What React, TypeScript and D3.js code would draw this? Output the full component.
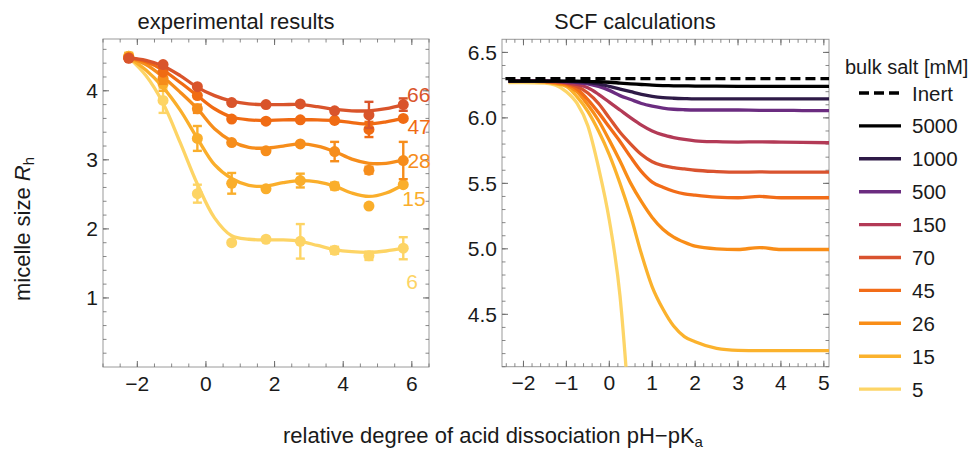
import React from 'react';
import * as d3 from 'd3';

// ---------- experimental data (left panel) ----------
const EXP_X = [-2.25, -1.25, -0.25, 0.75, 1.75, 2.75, 3.75, 4.75, 5.75];
const EXP_66 = [4.47, 4.38, 4.06, 3.83, 3.8, 3.81, 3.71, 3.65, 3.8];
const ERR_66 = [0.03, 0, 0, 0, 0, 0, 0, 0.19, 0.09];
const EXP_47 = [4.48, 4.27, 3.93, 3.59, 3.56, 3.58, 3.57, 3.44, 3.6];
const ERR_47 = [0, 0, 0, 0, 0.03, 0, 0, 0.11, 0];
const EXP_28 = [4.48, 4.18, 3.74, 3.25, 3.13, 3.23, 3.12, 2.85, 2.99];
const ERR_28 = [0, 0.08, 0.06, 0, 0, 0, 0.14, 0.05, 0.27];
const EXP_15 = [4.5, 4.1, 3.31, 2.66, 2.58, 2.7, 2.62, 2.33, 2.64];
const ERR_15 = [0.05, 0.1, 0.18, 0.15, 0, 0.1, 0.05, 0, 0];
const EXP_6 = [4.5, 3.86, 2.51, 1.8, 1.85, 1.82, 1.69, 1.61, 1.72];
const ERR_6 = [0.04, 0.18, 0.13, 0, 0, 0.25, 0.05, 0.06, 0.16];

const FIT_X = [-2.25, -1.75, -1.25, -0.75, -0.25, 0.25, 0.75, 1.25, 1.75, 2.25, 2.75, 3.25, 3.75, 4.25, 4.75, 5.25, 5.75];
const FIT_66 = [4.48, 4.44, 4.36, 4.22, 4.05, 3.93, 3.85, 3.81, 3.8, 3.8, 3.8, 3.77, 3.73, 3.71, 3.71, 3.74, 3.8];
const FIT_47 = [4.48, 4.42, 4.3, 4.12, 3.93, 3.74, 3.62, 3.58, 3.57, 3.58, 3.58, 3.58, 3.57, 3.54, 3.52, 3.55, 3.6];
const FIT_28 = [4.48, 4.38, 4.2, 3.98, 3.74, 3.45, 3.27, 3.18, 3.17, 3.2, 3.23, 3.2, 3.12, 3.01, 2.95, 2.95, 3.0];
const FIT_15 = [4.48, 4.3, 4.05, 3.72, 3.31, 2.93, 2.73, 2.63, 2.62, 2.67, 2.7, 2.68, 2.62, 2.52, 2.47, 2.52, 2.64];
const FIT_6 = [4.48, 4.22, 3.82, 3.25, 2.65, 2.16, 1.9, 1.85, 1.84, 1.84, 1.82, 1.76, 1.7, 1.67, 1.66, 1.68, 1.72];

const EXP_LABELS = ['66', '47', '28', '15', '6'];
const EXP_COLORS = ['#D9542B', '#F06B13', '#F68D1B', '#FAAE2B', '#FDD465'];

// ---------- SCF data (right panel) ----------
const SCF_X = [-2.35, -2, -1.5, -1.25, -1, -0.75, -0.5, -0.25, 0, 0.25, 0.5, 0.75, 1, 1.25, 1.5, 1.75, 2, 2.5, 3, 3.5, 4, 4.5, 5.12];
const SCF_5000 = [6.28, 6.28, 6.28, 6.28, 6.28, 6.28, 6.278, 6.276, 6.272, 6.266, 6.26, 6.255, 6.25, 6.247, 6.245, 6.244, 6.243, 6.242, 6.241, 6.241, 6.24, 6.24, 6.24];
const SCF_1000 = [6.28, 6.28, 6.28, 6.28, 6.278, 6.275, 6.27, 6.26, 6.24, 6.22, 6.2, 6.18, 6.165, 6.155, 6.15, 6.147, 6.145, 6.145, 6.145, 6.145, 6.145, 6.145, 6.145];
const SCF_500 = [6.28, 6.28, 6.28, 6.278, 6.275, 6.27, 6.26, 6.24, 6.21, 6.17, 6.14, 6.11, 6.09, 6.075, 6.066, 6.062, 6.06, 6.06, 6.06, 6.058, 6.058, 6.056, 6.055];
const SCF_150 = [6.28, 6.28, 6.28, 6.278, 6.27, 6.255, 6.23, 6.18, 6.12, 6.06, 6.0, 5.945, 5.9, 5.87, 5.85, 5.835, 5.825, 5.818, 5.815, 5.817, 5.815, 5.813, 5.81];
const SCF_70 = [6.28, 6.28, 6.278, 6.275, 6.265, 6.24, 6.19, 6.11, 6.0, 5.89, 5.8, 5.72, 5.665, 5.635, 5.62, 5.61, 5.6, 5.59, 5.585, 5.588, 5.585, 5.585, 5.585];
const SCF_45 = [6.28, 6.28, 6.278, 6.272, 6.26, 6.22, 6.14, 6.04, 5.93, 5.82, 5.7, 5.59, 5.51, 5.47, 5.44, 5.42, 5.41, 5.395, 5.39, 5.4, 5.39, 5.39, 5.39];
const SCF_26 = [6.28, 6.28, 6.275, 6.265, 6.25, 6.2, 6.1, 5.98, 5.83, 5.67, 5.5, 5.36, 5.24, 5.15, 5.09, 5.05, 5.02, 5.0, 4.995, 5.01, 4.995, 4.995, 4.995];
const SCF_15 = [6.28, 6.28, 6.275, 6.26, 6.24, 6.16, 6.05, 5.9, 5.72, 5.5, 5.25, 4.96, 4.71, 4.54, 4.41, 4.33, 4.29, 4.24, 4.225, 4.223, 4.223, 4.223, 4.223];
const SCF_5 = [6.27, 6.27, 6.265, 6.25, 6.2, 6.11, 5.94, 5.62, 5.22, 4.64, 3.6, null, null, null, null, null, null, null, null, null, null, null, null];
const INERT = 6.3;
const INERT_X = [-2.42, 5.12];

const LEGEND_LABELS = ['Inert', '5000', '1000', '500', '150', '70', '45', '26', '15', '5'];
const SCF_COLORS = ['#000000', '#000000', '#2E1A47', '#6B2C80', '#B33A56', '#D9532F', '#F26C18', '#F98D17', '#FBB22D', '#FDD567'];

const LEFT_XTICKS = [-2, 0, 2, 4, 6];
const LEFT_YTICKS = [1, 2, 3, 4];
const RIGHT_XTICKS = [-2, -1, 0, 1, 2, 3, 4, 5];
const RIGHT_YTICKS = [4.5, 5.0, 5.5, 6.0, 6.5];

const FONT = 'Liberation Sans, Arial, Helvetica, sans-serif';
const fmtMinus = (v: number) => (v < 0 ? '\u2212' + Math.abs(v) : String(v));

type FrameProps = {
  x: d3.ScaleLinear<number, number>;
  y: d3.ScaleLinear<number, number>;
  xMajor: number[];
  yMajor: number[];
  xMinor: number[];
  yMinor: number[];
  xFmt: (v: number) => string;
  yFmt: (v: number) => string;
};

function Frame({ x, y, xMajor, yMajor, xMinor, yMinor, xFmt, yFmt }: FrameProps) {
  const [x0, x1] = x.range();
  const [y0, y1] = y.range(); // y0 bottom, y1 top
  const maj = 6;
  const min = 3.5;
  const tc = '#6b6b6b';
  return (
    <g>
      <rect x={x0} y={y1} width={x1 - x0} height={y0 - y1} fill="none" stroke="#9a9a9a" strokeWidth={1} />
      {xMinor.map((v, i) => (
        <g key={'xm' + i} stroke={tc} strokeWidth={0.8}>
          <line x1={x(v)} x2={x(v)} y1={y0} y2={y0 - min} />
          <line x1={x(v)} x2={x(v)} y1={y1} y2={y1 + min} />
        </g>
      ))}
      {xMajor.map((v, i) => (
        <g key={'xM' + i}>
          <line x1={x(v)} x2={x(v)} y1={y0} y2={y0 - maj} stroke={tc} strokeWidth={1} />
          <line x1={x(v)} x2={x(v)} y1={y1} y2={y1 + maj} stroke={tc} strokeWidth={1} />
          <text x={x(v)} y={y0 + 23.5} textAnchor="middle" fontSize={21} fontFamily={FONT} fill="#1a1a1a">
            {xFmt(v)}
          </text>
        </g>
      ))}
      {yMinor.map((v, i) => (
        <g key={'ym' + i} stroke={tc} strokeWidth={0.8}>
          <line x1={x0} x2={x0 + min} y1={y(v)} y2={y(v)} />
          <line x1={x1} x2={x1 - min} y1={y(v)} y2={y(v)} />
        </g>
      ))}
      {yMajor.map((v, i) => (
        <g key={'yM' + i}>
          <line x1={x0} x2={x0 + maj} y1={y(v)} y2={y(v)} stroke={tc} strokeWidth={1} />
          <line x1={x1} x2={x1 - maj} y1={y(v)} y2={y(v)} stroke={tc} strokeWidth={1} />
          <text x={x0 - 5} y={y(v) + 7.5} textAnchor="end" fontSize={21} fontFamily={FONT} fill="#1a1a1a">
            {yFmt(v)}
          </text>
        </g>
      ))}
    </g>
  );
}

export default function App() {
  // left panel scales
  const xL = d3.scaleLinear().domain([-3, 6.5]).range([103, 429]);
  const yL = d3.scaleLinear().domain([0, 4.75]).range([367, 39]);
  // right panel scales
  const xR = d3.scaleLinear().domain([-2.5, 5.12]).range([502, 829]);
  const yR = d3.scaleLinear().domain([4.1, 6.6]).range([366.7, 39.3]);

  const fitLine = d3
    .line<[number, number]>()
    .x((d) => xL(d[0]))
    .y((d) => yL(d[1]))
    .curve(d3.curveCatmullRom.alpha(0.5));

  const scfLine = d3
    .line<[number, number | null]>()
    .defined((d) => d[1] !== null)
    .x((d) => xR(d[0]))
    .y((d) => yR(d[1] as number))
    .curve(d3.curveMonotoneX);

  const expSeries = [
    { pts: EXP_66, err: ERR_66, fit: FIT_66 },
    { pts: EXP_47, err: ERR_47, fit: FIT_47 },
    { pts: EXP_28, err: ERR_28, fit: FIT_28 },
    { pts: EXP_15, err: ERR_15, fit: FIT_15 },
    { pts: EXP_6, err: ERR_6, fit: FIT_6 },
  ];
  // label anchor (data units) for the series labels at the right edge
  const labelPos = [
    { x: 5.86, y: 3.94 },
    { x: 5.87, y: 3.48 },
    { x: 5.87, y: 2.99 },
    { x: 5.72, y: 2.44 },
    { x: 5.84, y: 1.24 },
  ];

  const scfSeries = [SCF_5000, SCF_1000, SCF_500, SCF_150, SCF_70, SCF_45, SCF_26, SCF_15, SCF_5];

  // draw order: lighter (low salt) first, then darker on top
  const drawOrder = [8, 7, 6, 5, 4, 3, 2, 1, 0];

  return (
    <svg
      width={968}
      height={451}
      style={{ position: 'absolute', left: 0, top: 0, background: '#fff' }}
      fontFamily={FONT}
    >
      <defs>
        <clipPath id="clipR">
          <rect x={502} y={39.3} width={327} height={327.4} />
        </clipPath>
      </defs>
      <rect x={0} y={0} width={968} height={451} fill="#fff" />

      {/* titles */}
      <text x={236} y={29} textAnchor="middle" fontSize={22} fill="#1a1a1a">
        experimental results
      </text>
      <text x={635} y={29} textAnchor="middle" fontSize={21.5} fill="#1a1a1a">
        SCF calculations
      </text>

      {/* left frame */}
      <Frame
        x={xL}
        y={yL}
        xMajor={LEFT_XTICKS}
        yMajor={LEFT_YTICKS}
        xMinor={d3.range(-3, 6.51, 0.5)}
        yMinor={d3.range(0.2, 4.75, 0.2)}
        xFmt={fmtMinus}
        yFmt={(v) => String(v)}
      />

      {/* left fits and data */}
      <g>
        {expSeries
          .map((s, i) => ({ s, i }))
          .reverse()
          .map(({ s, i }) => (
            <g key={'exp' + i}>
              <path
                d={fitLine(FIT_X.map((xv, k) => [xv, s.fit[k]] as [number, number])) || ''}
                fill="none"
                stroke={EXP_COLORS[i]}
                strokeWidth={3.3}
              />
              {EXP_X.map((xv, k) => (
                <g key={k}>
                  {s.err[k] > 0.02 && (
                    <g stroke={EXP_COLORS[i]} strokeWidth={2.4}>
                      <line x1={xL(xv)} x2={xL(xv)} y1={yL(s.pts[k] - s.err[k])} y2={yL(s.pts[k] + s.err[k])} />
                      <line x1={xL(xv) - 4.5} x2={xL(xv) + 4.5} y1={yL(s.pts[k] - s.err[k])} y2={yL(s.pts[k] - s.err[k])} />
                      <line x1={xL(xv) - 4.5} x2={xL(xv) + 4.5} y1={yL(s.pts[k] + s.err[k])} y2={yL(s.pts[k] + s.err[k])} />
                    </g>
                  )}
                  <circle cx={xL(xv)} cy={yL(s.pts[k])} r={5.5} fill={EXP_COLORS[i]} />
                </g>
              ))}
            </g>
          ))}
        {EXP_LABELS.map((lab, i) => (
          <text key={lab} x={xL(labelPos[i].x)} y={yL(labelPos[i].y) + 7.5} fontSize={21} fill={EXP_COLORS[i]}>
            {lab}
          </text>
        ))}
      </g>

      {/* right frame */}
      <Frame
        x={xR}
        y={yR}
        xMajor={RIGHT_XTICKS}
        yMajor={RIGHT_YTICKS}
        xMinor={d3.range(-2.4, 5.12, 0.2)}
        yMinor={d3.range(4.1, 6.6, 0.1)}
        xFmt={fmtMinus}
        yFmt={(v) => v.toFixed(1)}
      />

      {/* right curves */}
      <g clipPath="url(#clipR)">
        {drawOrder.map((i) => (
          <path
            key={'scf' + i}
            d={scfLine(SCF_X.map((xv, k) => [xv, scfSeries[i][k]] as [number, number | null])) || ''}
            fill="none"
            stroke={SCF_COLORS[i + 1]}
            strokeWidth={3.3}
          />
        ))}
        <line
          x1={xR(INERT_X[0])}
          x2={xR(INERT_X[1])}
          y1={yR(INERT)}
          y2={yR(INERT)}
          stroke="#000"
          strokeWidth={3.4}
          strokeDasharray="10,5"
        />
      </g>

      {/* legend */}
      <text x={845} y={74} fontSize={20} fill="#1a1a1a">
        bulk salt [mM]
      </text>
      {LEGEND_LABELS.map((lab, i) => {
        const cy = 93 + i * 32.9;
        return (
          <g key={'leg' + lab}>
            <line
              x1={859}
              x2={901}
              y1={cy}
              y2={cy}
              stroke={SCF_COLORS[i]}
              strokeWidth={3.4}
              strokeDasharray={i === 0 ? '10,5' : undefined}
            />
            <text x={912} y={cy + 7.5} fontSize={20.5} fill="#1a1a1a">
              {lab}
            </text>
          </g>
        );
      })}

      {/* axis labels */}
      <text transform="translate(30,229) rotate(-90)" textAnchor="middle" fontSize={22} fill="#1a1a1a">
        micelle size <tspan fontStyle="italic">R</tspan>
        <tspan fontSize={15} dy={4}>h</tspan>
      </text>
      <text x={493} y={443} textAnchor="middle" fontSize={22} fill="#1a1a1a">
        relative degree of acid dissociation pH{'\u2212'}pK
        <tspan fontSize={15} dy={3.5}>a</tspan>
      </text>
    </svg>
  );
}
